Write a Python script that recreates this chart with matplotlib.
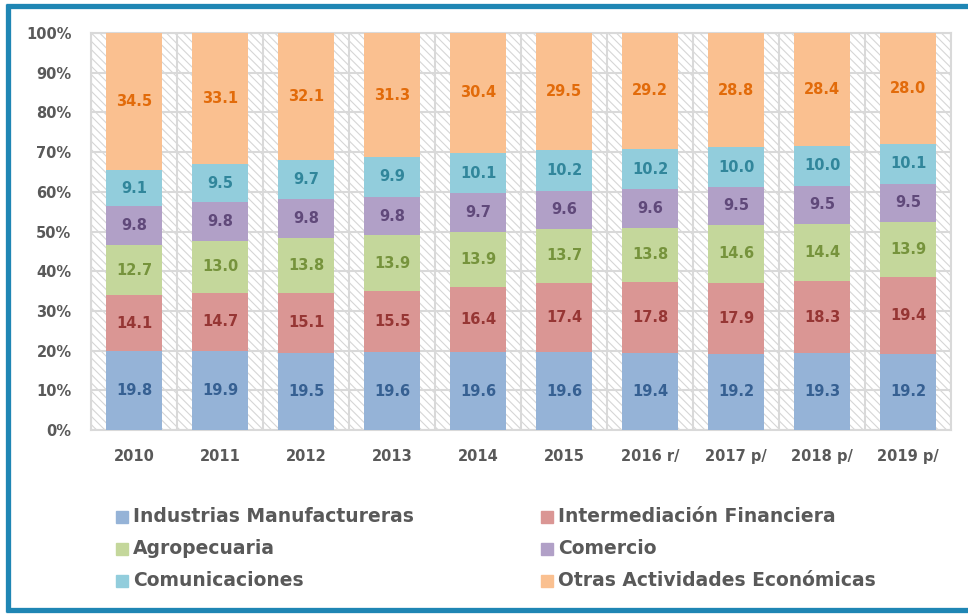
import matplotlib
matplotlib.use('Agg')
import numpy as np
from matplotlib import pyplot as plt
from matplotlib.patches import Rectangle
from matplotlib.lines import Line2D

years = ['2010', '2011', '2012', '2013', '2014', '2015',
         '2016 r/', '2017 p/', '2018 p/', '2019 p/']

industrias = [19.8, 19.9, 19.5, 19.6, 19.6, 19.6, 19.4, 19.2, 19.3, 19.2]
intermediacion = [14.1, 14.7, 15.1, 15.5, 16.4, 17.4, 17.8, 17.9, 18.3, 19.4]
agropecuaria = [12.7, 13.0, 13.8, 13.9, 13.9, 13.7, 13.8, 14.6, 14.4, 13.9]
comercio = [9.8, 9.8, 9.8, 9.8, 9.7, 9.6, 9.6, 9.5, 9.5, 9.5]
comunicaciones = [9.1, 9.5, 9.7, 9.9, 10.1, 10.2, 10.2, 10.0, 10.0, 10.1]
otras = [34.5, 33.1, 32.1, 31.3, 30.4, 29.5, 29.2, 28.8, 28.4, 28.0]

series = [
    ('Industrias Manufactureras', industrias, '#95B3D7', '#366092'),
    ('Intermediación Financiera', intermediacion, '#DA9694', '#963634'),
    ('Agropecuaria', agropecuaria, '#C4D79B', '#76933C'),
    ('Comercio', comercio, '#B1A0C7', '#60497A'),
    ('Comunicaciones', comunicaciones, '#92CDDC', '#31869B'),
    ('Otras Actividades Económicas', otras, '#FAC090', '#E26B0A'),
]

plt.rcParams['font.family'] = 'DejaVu Sans'
plt.rcParams['hatch.linewidth'] = 0.8
gray = '#595959'
W, H = 968., 615.

fig = plt.figure(figsize=(W / 100, H / 100), dpi=100)
ax = fig.add_axes([91 / W, 1 - 430 / H, 860 / W, 397 / H])

# hatched plot background
ax.add_patch(Rectangle((0, 0), 1, 1, transform=ax.transAxes, facecolor='white',
                       edgecolor='#D6D6D6', hatch='\\\\\\\\', linewidth=0, zorder=0))

x = np.arange(len(years))
bottom = np.zeros(len(years))
for name, vals, fc, tc in series:
    vals = np.array(vals)
    ax.bar(x, vals / 100, width=0.66, bottom=bottom / 100, color=fc, zorder=3)
    for xi, b, v in zip(x, bottom, vals):
        ax.text(xi, (b + v / 2) / 100, '%.1f' % v, ha='center', va='center',
                color=tc, fontsize=10.5, fontweight='bold', zorder=4)
    bottom += vals

ax.set_xlim(-0.5, len(years) - 0.5)
ax.set_ylim(0, 1)
ax.set_yticks(np.arange(0, 1.01, 0.1))
ax.set_yticklabels(['%d%%' % v for v in range(0, 101, 10)])
ax.set_xticks(x)
ax.set_xticklabels(years)
ax.set_xticks(np.arange(-0.5, len(years), 1), minor=True)
ax.tick_params(axis='both', which='both', length=0, labelsize=10.5,
               labelcolor=gray)
ax.tick_params(axis='x', pad=14)
ax.tick_params(axis='y', pad=14)
for lbl in ax.get_xticklabels() + ax.get_yticklabels():
    lbl.set_fontweight('bold')

ax.grid(axis='y', color='#D9D9D9', linewidth=1.5, zorder=1)
ax.grid(axis='x', which='minor', color='#D9D9D9', linewidth=1.5, zorder=1)
ax.set_axisbelow(True)
for s in ax.spines.values():
    s.set_color('#D9D9D9')
    s.set_linewidth(1.5)

# legend, two columns laid out like the original
col_x = [116, 541]
row_y = [517, 549, 581]
for i, (name, vals, fc, tc) in enumerate(series):
    cx = col_x[i % 2]
    cy = row_y[i // 2]
    fig.patches.append(Rectangle((cx / W, 1 - (cy + 6) / H), 12 / W, 12 / H,
                                 transform=fig.transFigure, color=fc))
    fig.text((cx + 17) / W, 1 - cy / H, name, ha='left', va='center',
             fontsize=13.5, fontweight='bold', color=gray)

# blue outer frame (open on the right, cut by the image edge)
frame = dict(color='#1F86B4', linewidth=3.8, transform=fig.transFigure,
             solid_capstyle='butt')
fig.lines.append(Line2D([7.5 / W, 7.5 / W], [1 - 3.5 / H, 1 - 611.5 / H], **frame))
fig.lines.append(Line2D([5.5 / W, 1.0], [1 - 5.5 / H, 1 - 5.5 / H], **frame))
fig.lines.append(Line2D([5.5 / W, 1.0], [1 - 609.5 / H, 1 - 609.5 / H], **frame))

fig.savefig('out.png', dpi=100)
